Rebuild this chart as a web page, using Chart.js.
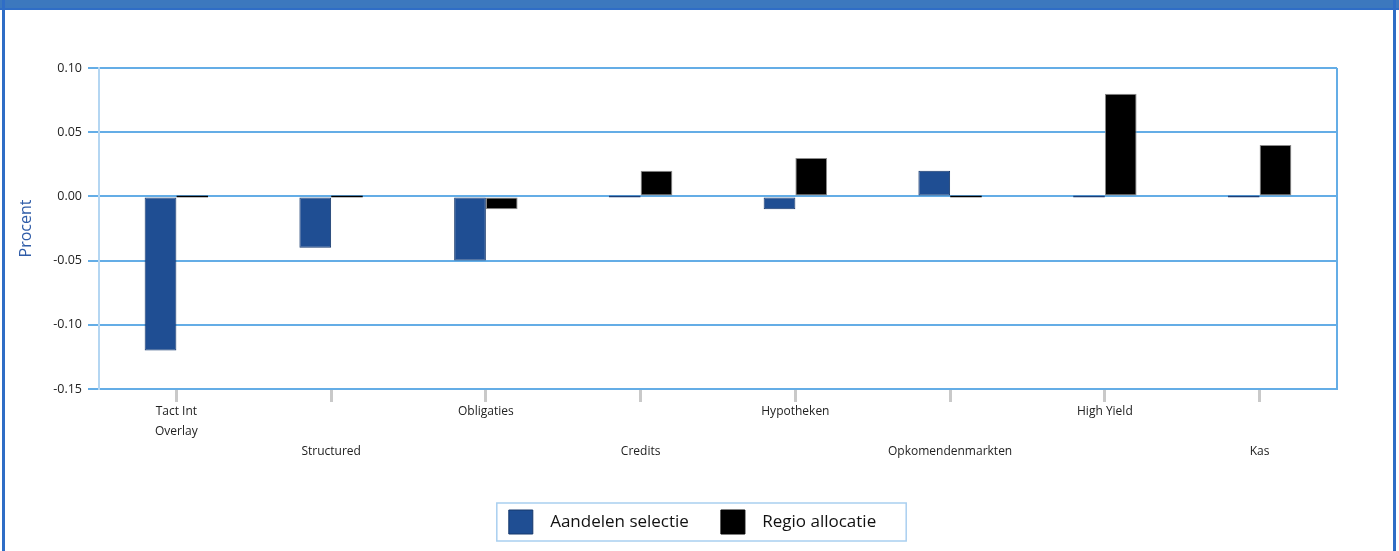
<!DOCTYPE html>
<html>
<head>
<meta charset="utf-8">
<script src="https://cdn.jsdelivr.net/npm/chart.js@4.4.1/dist/chart.umd.min.js"></script>
<style>
    body { margin: 0; background: #fff; overflow: hidden; }
    #page { position: relative; width: 1399px; height: 551px; }
    #header { position: absolute; left: 0; top: 0; width: 1399px; height: 8px; background: #3c78be; border-bottom: 2px solid #2f6dc6; }
    #leftEdge { position: absolute; left: 2px; top: 0; width: 3px; height: 551px; background: #2f6dc6; }
    #rightEdge { position: absolute; left: 1393px; top: 0; width: 3px; height: 551px; background: #2f6dc6; }
    #wrap { position: absolute; left: 0; top: 0; width: 1399px; height: 551px; }
</style>
</head>
<body>
<div id="page">
    <div id="header"></div>
    <div id="leftEdge"></div>
    <div id="rightEdge"></div>
    <div id="wrap"><canvas id="attributionChart"></canvas></div>
</div>
<script>
const categories = [
    ['Tact Int', 'Overlay'],
    'Structured',
    'Obligaties',
    'Credits',
    'Hypotheken',
    'Opkomendenmarkten',
    'High Yield',
    'Kas'
];
const aandelenSelectie = [-0.12, -0.04, -0.05, 0.00, -0.01, 0.02, 0.00, 0.00];
const regioAllocatie = [0.00, 0.00, -0.01, 0.02, 0.03, 0.00, 0.08, 0.04];
const yTicks = [0.10, 0.05, 0.00, -0.05, -0.10, -0.15];

const gridBlue = '#64ade6';
const leftPad = 48; // shifts the centred legend to the right

// legend frame + right border of the plot
const framePlugin = {
    id: 'framePlugin',
    beforeDatasetsDraw(chart) {
        const { ctx, chartArea } = chart;
        ctx.save();
        ctx.strokeStyle = gridBlue;
        ctx.lineWidth = 2;
        ctx.beginPath();
        ctx.moveTo(chartArea.right, chartArea.top);
        ctx.lineTo(chartArea.right, chartArea.bottom);
        ctx.stroke();
        ctx.restore();
    },
    afterDraw(chart) {
        const boxes = chart.legend.legendHitBoxes;
        if (!boxes || !boxes.length) return;
        const left = Math.min(...boxes.map(b => b.left)) - 12;
        const right = Math.max(...boxes.map(b => b.left + b.width)) + 30;
        const top = Math.min(...boxes.map(b => b.top)) - 7;
        const bottom = Math.max(...boxes.map(b => b.top + b.height)) + 7;
        const ctx = chart.ctx;
        ctx.save();
        ctx.strokeStyle = '#a9cff0';
        ctx.lineWidth = 1.5;
        ctx.strokeRect(left, top, right - left, bottom - top);
        ctx.restore();
    }
};

const ctx = document.getElementById('attributionChart').getContext('2d');
new Chart(ctx, {
    type: 'bar',
    data: {
        labels: categories,
        datasets: [{
            label: 'Aandelen selectie',
            data: aandelenSelectie,
            backgroundColor: '#1f4e93',
            borderColor: c => c.raw === 0 ? '#1a3f78' : '#16386c',
            borderWidth: 1,
            borderSkipped: false,
            minBarLength: 2,
            barPercentage: 1,
            categoryPercentage: 0.41
        }, {
            label: 'Regio allocatie',
            data: regioAllocatie,
            backgroundColor: '#000000',
            borderColor: c => c.raw === 0 ? '#000000' : '#8c8c8c',
            borderWidth: 1,
            borderSkipped: false,
            minBarLength: 2,
            barPercentage: 1,
            categoryPercentage: 0.41
        }]
    },
    options: {
        responsive: true,
        maintainAspectRatio: false,
        animation: false,
        layout: {
            padding: { top: 68, right: 62, bottom: 7, left: leftPad }
        },
        plugins: {
            legend: {
                position: 'bottom',
                labels: {
                    boxWidth: 24,
                    boxHeight: 24,
                    padding: 32,
                    color: '#111',
                    font: { family: 'Open Sans', size: 17 },
                    generateLabels(chart) {
                        const items = Chart.defaults.plugins.legend.labels.generateLabels(chart);
                        items.forEach(it => { it.text = '  ' + it.text; it.lineWidth = 1; });
                        return items;
                    }
                }
            },
            tooltip: { enabled: false }
        },
        scales: {
            x: {
                grid: {
                    offset: false,
                    drawOnChartArea: false,
                    tickLength: 13,
                    tickWidth: 3,
                    tickColor: '#c9c9c9'
                },
                border: { color: gridBlue, width: 2 },
                ticks: {
                    autoSkip: false,
                    maxRotation: 0,
                    padding: 0,
                    color: '#222',
                    font: { family: 'Open Sans', size: 12, lineHeight: '20px' },
                    callback: function (value, index) {
                        const lbl = categories[index];
                        return index % 2 === 0 ? lbl : ['', '', lbl];
                    }
                },
                afterFit(scale) { scale.height = 89; }
            },
            y: {
                min: -0.15,
                max: 0.10,
                afterBuildTicks(scale) {
                    scale.ticks = yTicks.map(v => ({ value: v }));
                },
                grid: {
                    color: gridBlue,
                    lineWidth: 2,
                    tickLength: 11,
                    tickColor: gridBlue
                },
                border: { color: '#b4d6f2', width: 2 },
                ticks: {
                    padding: 6,
                    color: '#222',
                    font: { family: 'Open Sans', size: 12.5 },
                    callback: v => v.toFixed(2)
                },
                title: {
                    display: true,
                    text: 'Procent',
                    color: '#2f5ca8',
                    padding: { top: 17 - leftPad, bottom: 0 },
                    font: { family: 'Open Sans', size: 16 }
                },
                afterFit(scale) { scale.width = 99 - leftPad; }
            }
        }
    },
    plugins: [framePlugin]
});
</script>
</body>
</html>
